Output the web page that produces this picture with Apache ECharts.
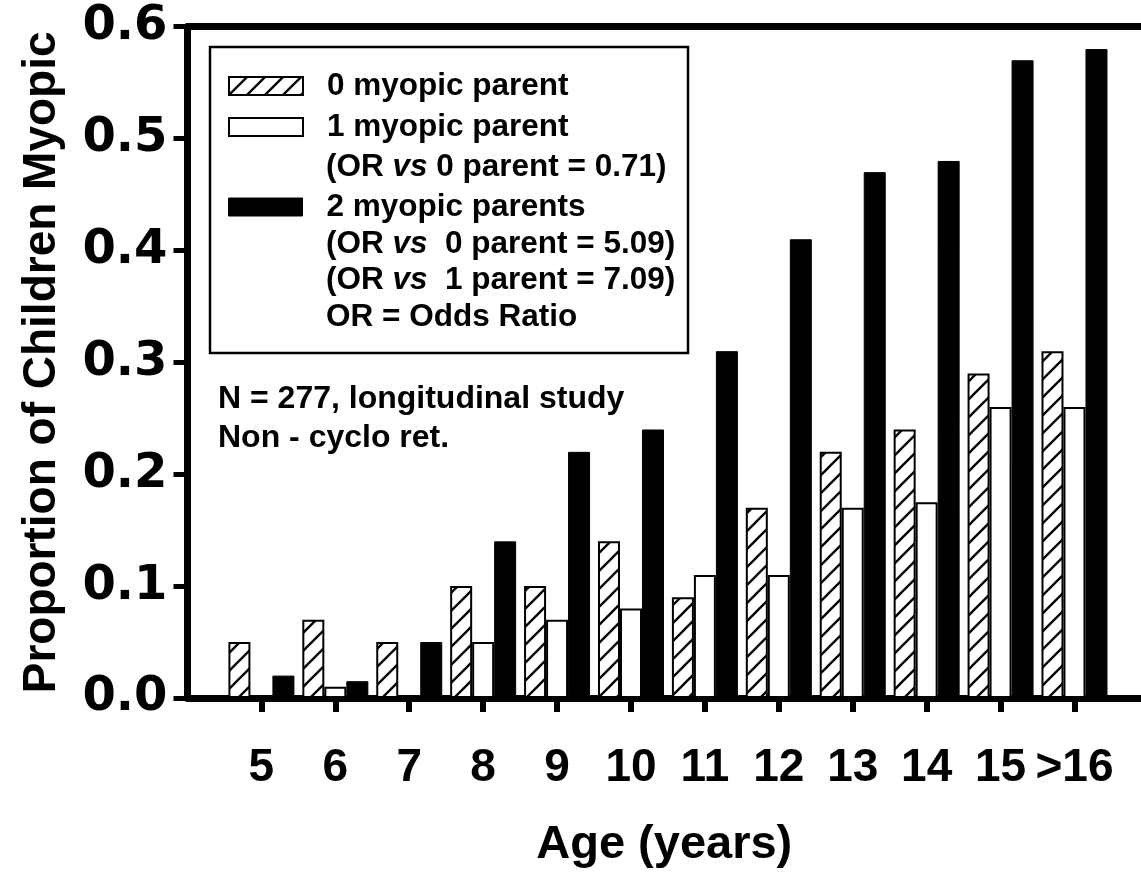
<!DOCTYPE html>
<html><head><meta charset="utf-8">
<script src="https://cdn.jsdelivr.net/npm/echarts@6/dist/echarts.min.js"></script>
<style>html,body{margin:0;padding:0;background:#fff}#c{width:1141px;height:874px}</style>
</head><body><div id="c"></div>
<script>
// ---- data ----
const ages = ['5','6','7','8','9','10','11','12','13','14','15','>16'];
const firstAge = 5;
const seriesNames = ['0 myopic parent','1 myopic parent','2 myopic parents'];
const zeroParent = [0.05,0.07,0.05,0.10,0.10,0.14,0.09,0.17,0.22,0.24,0.29,0.31];
const oneParent  = [0,0.01,0,0.05,0.07,0.08,0.11,0.11,0.17,0.175,0.26,0.26];
const twoParents = [0.02,0.015,0.05,0.14,0.22,0.24,0.31,0.41,0.47,0.48,0.57,0.58];
const legendSubLines = [
  ['(OR {i|vs} 0 parent = 0.71)'],
  ['(OR {i|vs}  0 parent = 5.09)', '(OR {i|vs}  1 parent = 7.09)', 'OR = Odds Ratio']
];
const noteLines = ['N = 277, longitudinal study', 'Non - cyclo ret.'];

// ---- styles ----
const SANS = '"Liberation Sans", Arial, sans-serif';
const WIDE = '"DejaVu Sans", sans-serif';

function hatchCanvas() {
  const s = 18, c = document.createElement('canvas');
  c.width = s; c.height = s;
  const g = c.getContext('2d');
  g.fillStyle = '#fff'; g.fillRect(0, 0, s, s);
  g.strokeStyle = '#000'; g.lineWidth = 2.3;
  g.beginPath();
  g.moveTo(-3, s + 3); g.lineTo(s + 3, -3);
  g.moveTo(-3, 3); g.lineTo(3, -3);
  g.moveTo(s - 3, s + 3); g.lineTo(s + 3, s - 3);
  g.stroke();
  return c;
}
const hatch = { image: hatchCanvas(), repeat: 'repeat' };

const styles = [
  { color: hatch, borderColor: '#000', borderWidth: 2 },
  { color: '#fff', borderColor: '#000', borderWidth: 2 },
  { color: '#000', borderColor: '#000', borderWidth: 1 }
];
const values = [zeroParent, oneParent, twoParents];
const tickValues = ages.map((a, i) => firstAge + i);

const legendTops = [70, 111, 191];
const legendText = { fontSize: 31.5, fontWeight: 'bold', fontFamily: SANS, color: '#000', lineHeight: 31, padding: [0, 0, 0, 19] };

const chart = echarts.init(document.getElementById('c'), null, { renderer: 'canvas' });

const graphics = [
  { type: 'rect', shape: { x: 210, y: 47, width: 478, height: 306 },
    style: { fill: 'none', stroke: '#000', lineWidth: 2.5 }, z: 10 }
];
const subY = [[167], [244, 280, 317]];
legendSubLines.forEach((lines, k) => {
  lines.forEach((t, j) => {
    graphics.push({ type: 'text', z: 10, style: {
      x: 326, y: subY[k][j], text: t, verticalAlign: 'middle',
      fontSize: 31.5, fontWeight: 'bold', fontFamily: SANS, fill: '#000',
      rich: { i: { fontStyle: 'italic', fontWeight: 'bold', fontSize: 31.5, fontFamily: SANS } }
    }});
  });
});
graphics.push({ type: 'text', z: 10, style: {
  x: 218, y: 380, text: noteLines.join('\n'), lineHeight: 39,
  fontSize: 32, fontWeight: 'bold', fontFamily: SANS, fill: '#000'
}});

chart.setOption({
  backgroundColor: '#fff',
  animation: false,
  grid: { left: 187.5, right: 0, top: 26.7, bottom: 175.5 },
  legend: seriesNames.map((n, i) => ({
    data: [{ name: n, itemStyle: styles[i] }],
    orient: 'vertical', left: 228, top: legendTops[i], padding: 0,
    itemWidth: 74, itemHeight: 18, icon: 'rect', selectedMode: false,
    textStyle: legendText
  })),
  xAxis: [{
    type: 'value', min: 4, max: 16.9, interval: 1,
    axisLine: { show: true, lineStyle: { color: '#000', width: 7 } },
    axisTick: { show: true, customValues: tickValues, length: 14, lineStyle: { color: '#000', width: 6 } },
    axisLabel: { customValues: tickValues, margin: 47, color: '#000', fontSize: 46, fontWeight: 'bold', fontFamily: SANS,
      formatter: v => { const i = Math.round(v) - firstAge; return ages[i] !== undefined ? ages[i] : ''; } },
    splitLine: { show: false },
    name: 'Age (years)', nameLocation: 'middle', nameGap: 124,
    nameTextStyle: { color: '#000', fontSize: 47, fontWeight: 'bold', fontFamily: SANS }
  }, {
    type: 'value', position: 'top', min: 4, max: 16.9, interval: 1,
    axisLine: { show: true, lineStyle: { color: '#000', width: 7 } },
    axisTick: { show: false }, axisLabel: { show: false }, splitLine: { show: false }
  }],
  yAxis: {
    type: 'value', min: 0, max: 0.6, interval: 0.1,
    axisLine: { show: true, lineStyle: { color: '#000', width: 7 } },
    axisTick: { show: true, length: 14, lineStyle: { color: '#000', width: 5 } },
    axisLabel: { margin: 20, color: '#000', fontSize: 48, fontWeight: 'bold', fontFamily: WIDE,
      formatter: v => v.toFixed(1) },
    splitLine: { show: false },
    name: 'Proportion of Children Myopic', nameLocation: 'middle', nameGap: 122,
    nameTextStyle: { color: '#000', fontSize: 46, fontWeight: 'bold', fontFamily: SANS }
  },
  series: seriesNames.map((n, s) => ({
    name: n, type: 'bar', xAxisIndex: 0, barWidth: 22, barGap: '0%',
    itemStyle: styles[s],
    data: values[s].map((v, i) => [firstAge + i, v])
  })),
  graphic: graphics
});
</script></body></html>
